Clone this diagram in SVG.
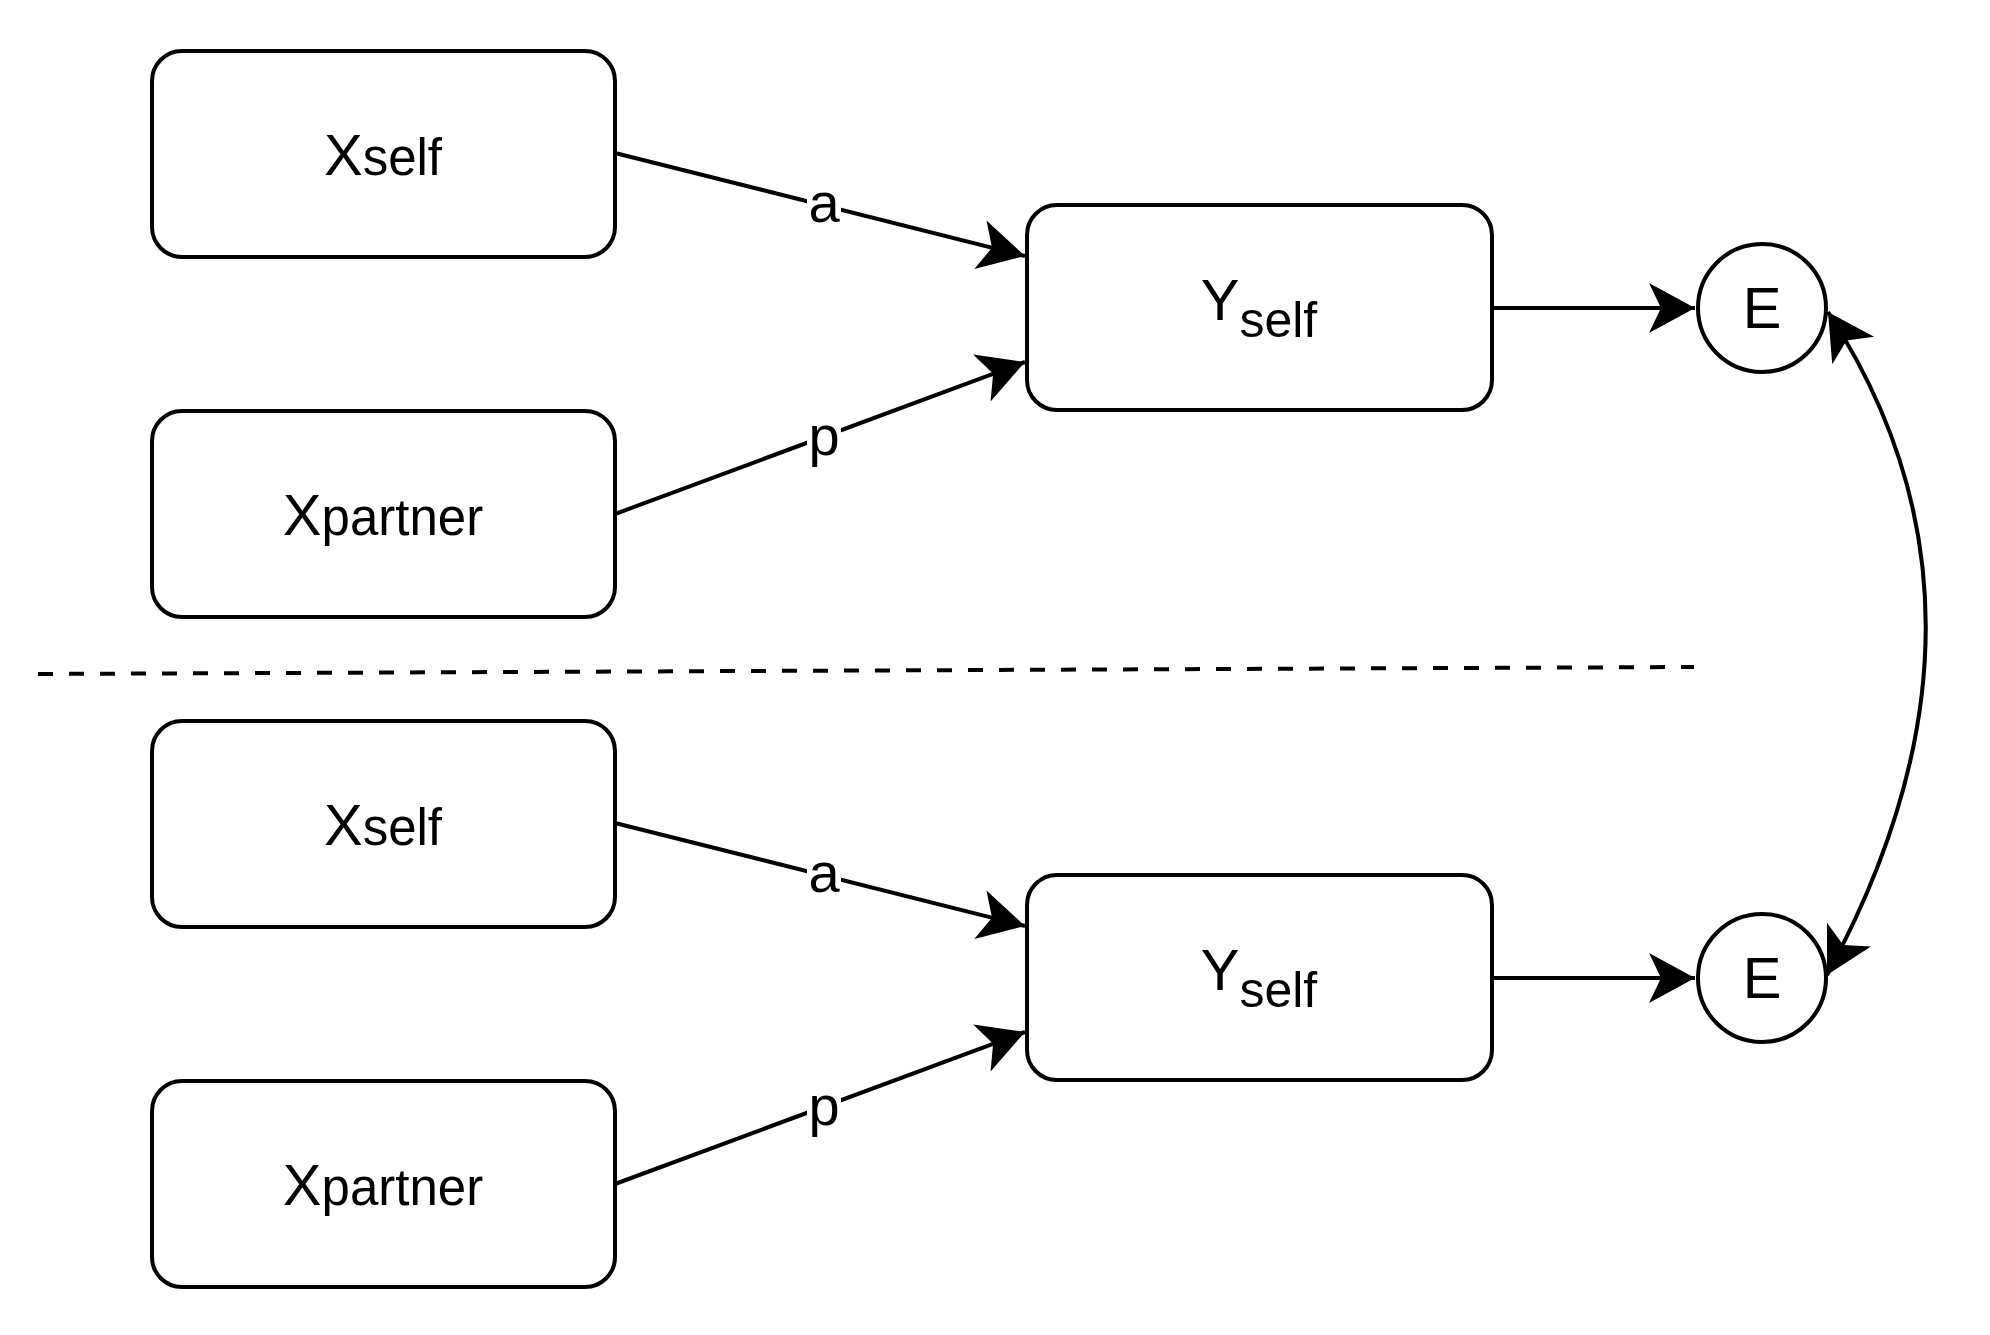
<svg xmlns="http://www.w3.org/2000/svg" width="1990" height="1335" viewBox="0 0 1990 1335">
<style>
.box{fill:#fff;stroke:#000;stroke-width:4}
.t{font-family:"Liberation Sans",Arial,sans-serif;fill:#000}
.edge{fill:none;stroke:#000;stroke-width:4}
.lbl{fill:#fff}
</style>
<defs>
<marker id="arr" markerUnits="userSpaceOnUse" markerWidth="52" markerHeight="56" viewBox="-48 -28 52 56" refX="0" refY="0" orient="auto-start-reverse">
<path d="M0,0 L-46,-25 L-34,0 L-46,25 Z" fill="#000"/>
</marker>
</defs>
<rect width="1990" height="1335" fill="#fff"/>
<g id="connectors">
<path class="edge" d="M615,153 L1025,256" marker-end="url(#arr)"/>
<path class="edge" d="M615,514 L1025,362" marker-end="url(#arr)"/>
<path class="edge" d="M1492,308 L1695,308" marker-end="url(#arr)"/>
<path class="edge" d="M615,823 L1025,926" marker-end="url(#arr)"/>
<path class="edge" d="M615,1184 L1025,1032" marker-end="url(#arr)"/>
<path class="edge" d="M1492,978 L1695,978" marker-end="url(#arr)"/>
<path class="edge" d="M1828,312 Q2024,612 1827,975" marker-start="url(#arr)" marker-end="url(#arr)"/>
<rect class="lbl" x="807" y="186" width="34" height="40"/>
<text class="t" x="824" y="222" font-size="56" text-anchor="middle">a</text>
<rect class="lbl" x="807" y="420" width="34" height="50"/>
<text class="t" x="824" y="455" font-size="56" text-anchor="middle">p</text>
<rect class="lbl" x="807" y="856" width="34" height="40"/>
<text class="t" x="824" y="892" font-size="56" text-anchor="middle">a</text>
<rect class="lbl" x="807" y="1090" width="34" height="50"/>
<text class="t" x="824" y="1125" font-size="56" text-anchor="middle">p</text>
</g>
<g id="divider">
<line x1="38" y1="674" x2="1694" y2="667" stroke="#000" stroke-width="4" stroke-dasharray="15 16"/>
</g>
<g id="xself1">
<rect class="box" x="152" y="51" width="463" height="206" rx="30"/>
<text class="t" x="383" y="175" text-anchor="middle" font-size="58">X<tspan font-size="51">self</tspan></text>
</g>
<g id="xpartner1">
<rect class="box" x="152" y="411" width="463" height="206" rx="30"/>
<text class="t" x="383" y="535" text-anchor="middle" font-size="58">X<tspan font-size="51">partner</tspan></text>
</g>
<g id="yself1">
<rect class="box" x="1027" y="205" width="465" height="205" rx="30"/>
<text class="t" x="1259" y="320" text-anchor="middle" font-size="58">Y<tspan dy="17" font-size="50">self</tspan></text>
</g>
<g id="e1">
<circle class="box" cx="1762" cy="308" r="64"/>
<text class="t" x="1762" y="328" text-anchor="middle" font-size="58">E</text>
</g>
<g id="xself2">
<rect class="box" x="152" y="721" width="463" height="206" rx="30"/>
<text class="t" x="383" y="845" text-anchor="middle" font-size="58">X<tspan font-size="51">self</tspan></text>
</g>
<g id="xpartner2">
<rect class="box" x="152" y="1081" width="463" height="206" rx="30"/>
<text class="t" x="383" y="1205" text-anchor="middle" font-size="58">X<tspan font-size="51">partner</tspan></text>
</g>
<g id="yself2">
<rect class="box" x="1027" y="875" width="465" height="205" rx="30"/>
<text class="t" x="1259" y="990" text-anchor="middle" font-size="58">Y<tspan dy="17" font-size="50">self</tspan></text>
</g>
<g id="e2">
<circle class="box" cx="1762" cy="978" r="64"/>
<text class="t" x="1762" y="998" text-anchor="middle" font-size="58">E</text>
</g>
</svg>
